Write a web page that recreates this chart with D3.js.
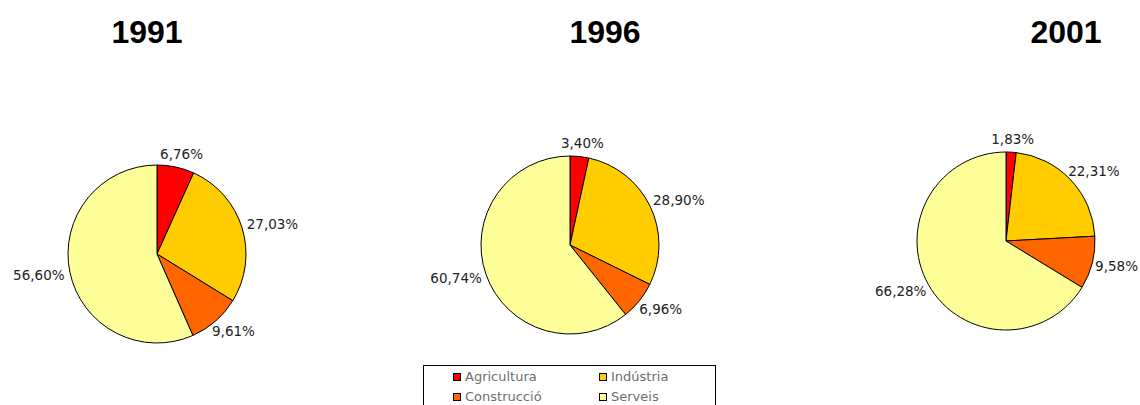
<!DOCTYPE html>
<html lang="ca">
<head>
<meta charset="UTF-8" />
<title>Població ocupada per sectors</title>
<style>
  body { margin: 0; background: #fff; overflow: hidden; }
  svg { display: block; }
  .title { font-family: "Liberation Sans", Arial, sans-serif; font-weight: bold; font-size: 32px; fill: #000; }
  .label { font-family: "DejaVu Sans", Verdana, sans-serif; font-size: 13.5px; fill: #222; }
  .legend text { font-family: "DejaVu Sans", Verdana, sans-serif; font-size: 13px; fill: #6e6e6e; }
</style>
</head>
<body>
<svg width="1140" height="405"></svg>
<script src="https://d3js.org/d3.v7.min.js"></script>
<script>
// Sectors and colours
const sectors = ["Agricultura", "Indústria", "Construcció", "Serveis"];
const colors = ["#ff0000", "#ffcc00", "#ff6600", "#ffff99"];

// Years and shares (%)
const years = ["1991", "1996", "2001"];
const values1991 = [6.76, 27.03, 9.61, 56.60];
const values1996 = [3.40, 28.90, 6.96, 60.74];
const values2001 = [1.83, 22.31, 9.58, 66.28];
const series = [values1991, values1996, values2001];

// Layout
const width = 1140;
const pieCenters = [[157, 254], [570, 245], [1006, 241]];
const titleX = [147, 605, 1066];
const radius = 89;

const svg = d3.select("svg");
const color = d3.scaleOrdinal().domain(sectors).range(colors);
const fmt = v => v.toFixed(2).replace(".", ",") + "%";

const pie = d3.pie().sort(null).value(d => d.value);
const arc = d3.arc().innerRadius(0).outerRadius(radius);

// Titles
svg.selectAll("text.title")
  .data(years)
  .join("text")
  .attr("class", "title")
  .attr("x", (d, i) => titleX[i])
  .attr("y", 43)
  .attr("text-anchor", "middle")
  .text(d => d);

// Pies
series.forEach((vals, i) => {
  const data = sectors.map((s, j) => ({ sector: s, value: vals[j] }));
  const cx = pieCenters[i][0], cy = pieCenters[i][1];
  const g = svg.append("g").attr("transform", `translate(${cx},${cy})`);

  const arcs = pie(data);

  g.selectAll("path")
    .data(arcs)
    .join("path")
    .attr("d", arc)
    .attr("fill", d => color(d.data.sector))
    .attr("stroke", "#000")
    .attr("stroke-width", 1);

  // labels placed just outside the edge, shifted by half the text box
  const labels = g.selectAll("text.label")
    .data(arcs)
    .join("text")
    .attr("class", "label")
    .attr("text-anchor", "middle")
    .attr("dy", "0.35em")
    .text(d => fmt(d.data.value));

  labels.each(function (d) {
    const a = (d.startAngle + d.endAngle) / 2;
    const w = this.getComputedTextLength() / 2;
    const h = 7;
    const r = radius + 6;
    let x = Math.sin(a) * r + Math.sin(a) * w;
    const y = -Math.cos(a) * r - Math.cos(a) * h;
    // keep it inside the picture
    if (cx + x + w > width - 2) x = width - 2 - w - cx;
    d3.select(this).attr("x", x).attr("y", y);
  });
});

// Legend
const legend = svg.append("g").attr("class", "legend");
legend.append("rect")
  .attr("x", 423.5)
  .attr("y", 365.5)
  .attr("width", 292)
  .attr("height", 50)
  .attr("fill", "#fff")
  .attr("stroke", "#000")
  .attr("stroke-width", 1);

const colX = [453, 599];
const rowY = [373, 393];
const items = legend.selectAll("g.item")
  .data(sectors)
  .join("g")
  .attr("class", "item")
  .attr("transform", (d, i) => `translate(${colX[i % 2]},${rowY[Math.floor(i / 2)]})`);

items.append("rect")
  .attr("x", 0.5)
  .attr("y", 0.5)
  .attr("width", 7)
  .attr("height", 7)
  .attr("fill", d => color(d))
  .attr("stroke", "#000")
  .attr("stroke-width", 1);

items.append("text")
  .attr("x", 12)
  .attr("y", 8)
  .text(d => d);
</script>
</body>
</html>
